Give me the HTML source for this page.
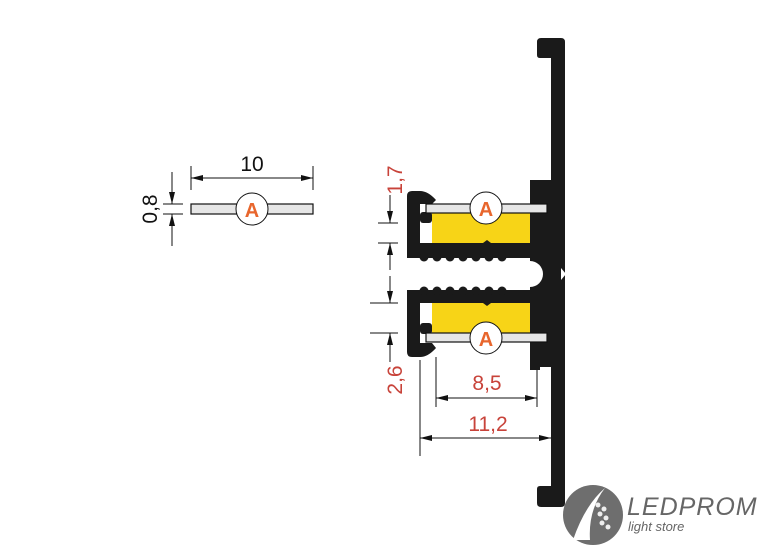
<!DOCTYPE html>
<html><head><style>
html,body{margin:0;padding:0;background:#fff;}
svg{display:block;}
</style></head><body>
<svg width="768" height="550" viewBox="0 0 768 550" xmlns="http://www.w3.org/2000/svg" font-family="Liberation Sans, sans-serif">
<defs>
<marker id="ar" markerWidth="12" markerHeight="6" refX="12" refY="3" orient="auto" markerUnits="userSpaceOnUse"><path d="M0,0 L12,3 L0,6 z" fill="#111"/></marker>
</defs>
<path d="M541,38 H561 Q565,38 565,42 V503 Q565,507 561,507 H541 Q537,507 537,503 V489 Q537,486 540,486 H551 V367 H537 V180 H551 V58 H540 Q537,58 537,55 V42 Q537,38 541,38 Z" fill="#1a1a1a"/>
<path d="M412,191 H420 Q428,191 436,200 L432,204 H420 V243 H538 V258 H407 V196 Q407,191 412,191 Z" fill="#1a1a1a"/>
<path d="M407,290 H538 V303 H420 V343 H432 L436,348 Q428,357 420,357 H412 Q407,357 407,352 Z" fill="#1a1a1a"/>
<rect x="530" y="180" width="10" height="190" fill="#1a1a1a"/>
<circle cx="530" cy="274" r="13" fill="#fff"/>
<path d="M543,262 L551,262 L551,286 L543,286 Z" fill="#1a1a1a"/>
<path d="M561,268 L566,274 L561,280 Z" fill="#fff"/>
<g fill="#1a1a1a">
<circle cx="424" cy="257" r="4.5"/><circle cx="437" cy="257" r="4.5"/><circle cx="450" cy="257" r="4.5"/><circle cx="463" cy="257" r="4.5"/><circle cx="476" cy="257" r="4.5"/><circle cx="489" cy="257" r="4.5"/><circle cx="502" cy="257" r="4.5"/>
<circle cx="424" cy="291" r="4.5"/><circle cx="437" cy="291" r="4.5"/><circle cx="450" cy="291" r="4.5"/><circle cx="463" cy="291" r="4.5"/><circle cx="476" cy="291" r="4.5"/><circle cx="489" cy="291" r="4.5"/><circle cx="502" cy="291" r="4.5"/>
</g>
<rect x="432" y="213" width="100" height="30" fill="#f7d417"/>
<rect x="432" y="303" width="100" height="30" fill="#f7d417"/>
<rect x="420" y="212" width="12" height="11" rx="3" fill="#1a1a1a"/>
<rect x="420" y="323" width="12" height="11" rx="3" fill="#1a1a1a"/>
<path d="M483,243 L487,240 L491,243Z" fill="#1a1a1a"/>
<path d="M483,303 L487,306 L491,303Z" fill="#1a1a1a"/>
<rect x="530" y="213" width="8" height="30" fill="#1a1a1a"/>
<rect x="530" y="303" width="8" height="30" fill="#1a1a1a"/>
<rect x="426" y="204" width="121" height="9" fill="#e6e6e6" stroke="#111" stroke-width="1.2"/>
<rect x="426" y="333" width="121" height="9" fill="#e6e6e6" stroke="#111" stroke-width="1.2"/>
<g font-weight="bold" font-size="20" fill="#e8662d" text-anchor="middle">
<circle cx="486" cy="208" r="16" fill="#fff" stroke="#111" stroke-width="1"/><text x="486" y="216">A</text>
<circle cx="486" cy="338" r="16" fill="#fff" stroke="#111" stroke-width="1"/><text x="486" y="346">A</text>
</g>
<rect x="191" y="204" width="122" height="10" fill="#e6e6e6" stroke="#111" stroke-width="1.2"/>
<circle cx="252" cy="209" r="16" fill="#fff" stroke="#111" stroke-width="1"/>
<text x="252" y="217" font-weight="bold" font-size="20" fill="#e8662d" text-anchor="middle">A</text>
<g stroke="#111" stroke-width="1" fill="none">
<line x1="191" y1="166" x2="191" y2="190"/><line x1="313" y1="166" x2="313" y2="190"/>
<line x1="252" y1="178" x2="191" y2="178" marker-end="url(#ar)"/><line x1="252" y1="178" x2="313" y2="178" marker-end="url(#ar)"/>
<line x1="163" y1="204" x2="183" y2="204"/><line x1="163" y1="214" x2="183" y2="214"/>
<line x1="172" y1="172" x2="172" y2="204" marker-end="url(#ar)"/><line x1="172" y1="246" x2="172" y2="214" marker-end="url(#ar)"/>
<line x1="378" y1="223" x2="398" y2="223"/><line x1="378" y1="243" x2="398" y2="243"/>
<line x1="390" y1="195" x2="390" y2="223" marker-end="url(#ar)"/><line x1="390" y1="270" x2="390" y2="243" marker-end="url(#ar)"/>
<line x1="370" y1="303" x2="398" y2="303"/><line x1="370" y1="333" x2="398" y2="333"/>
<line x1="390" y1="276" x2="390" y2="303" marker-end="url(#ar)"/><line x1="390" y1="362" x2="390" y2="333" marker-end="url(#ar)"/>
<line x1="436" y1="357" x2="436" y2="407"/><line x1="537" y1="370" x2="537" y2="407"/>
<line x1="487" y1="398" x2="436" y2="398" marker-end="url(#ar)"/><line x1="487" y1="398" x2="537" y2="398" marker-end="url(#ar)"/>
<line x1="420" y1="360" x2="420" y2="456"/>
<line x1="485" y1="438" x2="420" y2="438" marker-end="url(#ar)"/><line x1="485" y1="438" x2="551" y2="438" marker-end="url(#ar)"/>
</g>
<text x="252" y="171" font-size="21" fill="#111" text-anchor="middle">10</text>
<text transform="translate(157,209) rotate(-90)" font-size="21" fill="#111" text-anchor="middle">0,8</text>
<text transform="translate(402,180) rotate(-90)" font-size="21" fill="#c8433a" text-anchor="middle">1,7</text>
<text transform="translate(402,380) rotate(-90)" font-size="21" fill="#c8433a" text-anchor="middle">2,6</text>
<text x="487" y="390" font-size="21" fill="#c8433a" text-anchor="middle">8,5</text>
<text x="488" y="431" font-size="21" fill="#c8433a" text-anchor="middle">11,2</text>
<circle cx="593" cy="515" r="30" fill="#6e6e6e"/>
<path d="M573,540 Q585,505 605,488 Q588,510 590,540 Z" fill="#fff"/>
<g fill="#eee"><circle cx="598" cy="505" r="2.5"/><circle cx="604" cy="509" r="2.5"/><circle cx="600" cy="514" r="2.5"/><circle cx="606" cy="518" r="2.5"/><circle cx="602" cy="523" r="2.5"/><circle cx="608" cy="527" r="2.5"/></g>
<text x="627" y="515" font-size="25" font-style="italic" fill="#666" letter-spacing="1">LEDPROM</text>
<text x="628" y="531" font-size="13" font-style="italic" fill="#666">light store</text>
</svg>
</body></html>
